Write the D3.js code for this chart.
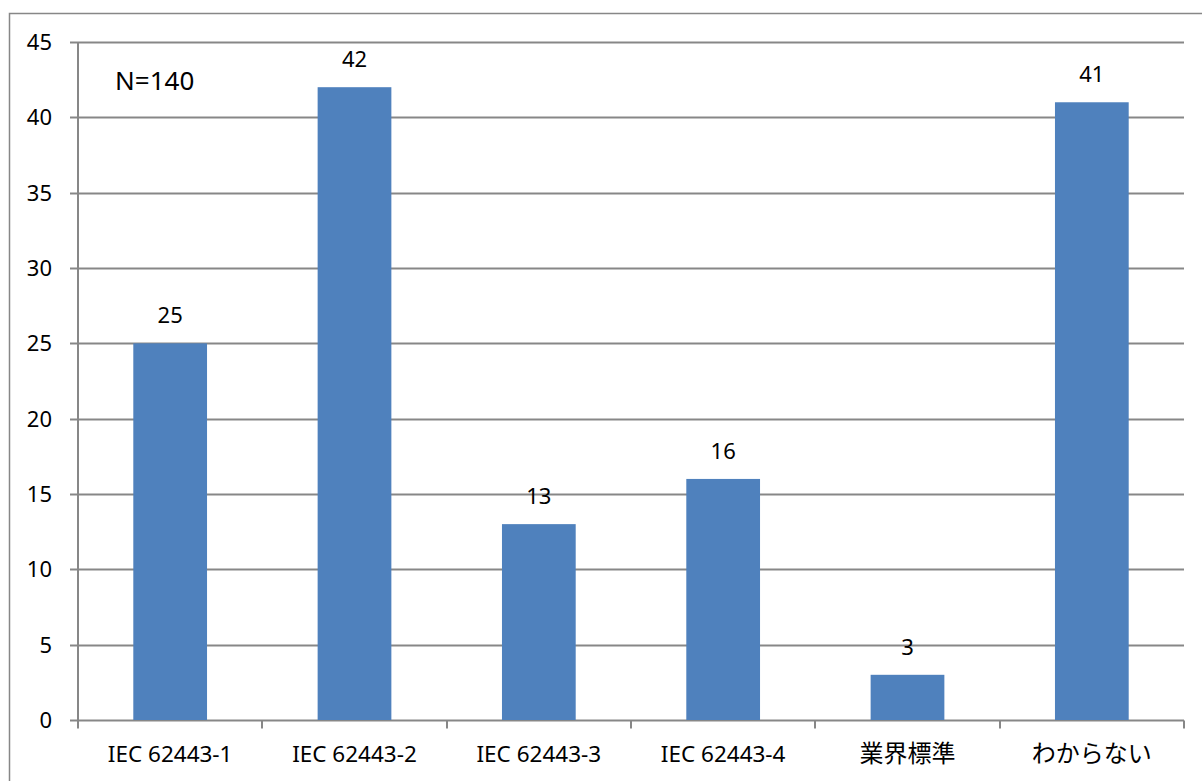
<!DOCTYPE html>
<head>
    <meta charset="utf-8">
    <script src="https://d3js.org/d3.v7.min.js"></script>
    <style>
        body { margin: 0; background: #fff; }
        text { font-family: "Noto Sans", "Noto Sans CJK JP", sans-serif; fill: #000; }
    </style>
</head>
<body>
    <svg></svg>
</body>

<script>
    // Data
    var categories = ["IEC 62443-1", "IEC 62443-2", "IEC 62443-3", "IEC 62443-4", "業界標準", "わからない"];
    var counts = [25, 42, 13, 16, 3, 41];
    var yTicks = [0, 5, 10, 15, 20, 25, 30, 35, 40, 45];
    var note = "N=140";

    // Variables
    var width = 1202;
    var height = 781;
    var margin = { top: 42, right: 18, bottom: 61, left: 78 };
    var gridColor = "#878787";
    var barColor = "#4f81bd";

    var svg = d3.select("svg")
        .attr("width", width)
        .attr("height", height);

    // outer frame (runs off the right and bottom edge)
    svg.append("rect")
        .attr("x", 9.5).attr("y", 13.5)
        .attr("width", width).attr("height", height)
        .attr("fill", "none")
        .attr("stroke", gridColor)
        .attr("stroke-width", 1.5);

    var x = d3.scaleBand()
        .domain(categories)
        .range([margin.left, width - margin.right]);

    var y = d3.scaleLinear()
        .domain([0, 45])
        .range([height - margin.bottom, margin.top]);

    var g = svg.append("g");

    // gridlines + y ticks
    g.selectAll("line.grid")
        .data(yTicks)
        .enter().append("line")
        .attr("class", "grid")
        .attr("x1", margin.left - 8)
        .attr("x2", width - margin.right)
        .attr("y1", function (d) { return Math.round(y(d)) + 0.5; })
        .attr("y2", function (d) { return Math.round(y(d)) + 0.5; })
        .attr("stroke", gridColor)
        .attr("stroke-width", 2);

    g.selectAll("text.ytick")
        .data(yTicks)
        .enter().append("text")
        .attr("class", "ytick")
        .attr("x", 52)
        .attr("y", function (d) { return y(d); })
        .attr("dy", "0.36em")
        .attr("text-anchor", "end")
        .style("font-size", "22px")
        .text(function (d) { return d; });

    // bars
    var barW = x.bandwidth() * 0.4;
    g.selectAll("rect.bar")
        .data(counts)
        .enter().append("rect")
        .attr("class", "bar")
        .attr("x", function (d, i) { return x(categories[i]) + (x.bandwidth() - barW) / 2; })
        .attr("y", function (d) { return y(d); })
        .attr("width", barW)
        .attr("height", function (d) { return y(0) - y(d); })
        .attr("fill", barColor);

    // value labels
    g.selectAll("text.val")
        .data(counts)
        .enter().append("text")
        .attr("class", "val")
        .attr("x", function (d, i) { return x(categories[i]) + x.bandwidth() / 2; })
        .attr("y", function (d) { return y(d) - 20; })
        .attr("text-anchor", "middle")
        .style("font-size", "22px")
        .text(function (d) { return d; });

    // axes lines
    var y0 = Math.round(y(0)) + 0.5;
    g.append("line")
        .attr("x1", margin.left).attr("x2", margin.left)
        .attr("y1", margin.top).attr("y2", y0)
        .attr("stroke", gridColor).attr("stroke-width", 2);

    var bounds = categories.map(function (c) { return x(c); }).concat([x.range()[1]]);
    g.selectAll("line.xtick")
        .data(bounds)
        .enter().append("line")
        .attr("class", "xtick")
        .attr("x1", function (d) { return Math.round(d); })
        .attr("x2", function (d) { return Math.round(d); })
        .attr("y1", y0).attr("y2", y0 + 8)
        .attr("stroke", gridColor).attr("stroke-width", 2);

    g.selectAll("text.xlab")
        .data(categories)
        .enter().append("text")
        .attr("class", "xlab")
        .attr("x", function (d) { return x(d) + x.bandwidth() / 2; })
        .attr("y", 762)
        .attr("text-anchor", "middle")
        .style("font-size", function (d) { return /[^\x00-\x7f]/.test(d) ? "24px" : "22.5px"; })
        .text(function (d) { return d; });

    // N label
    svg.append("text")
        .attr("x", 115)
        .attr("y", 90)
        .style("font-size", "26px")
        .text(note);
</script>
